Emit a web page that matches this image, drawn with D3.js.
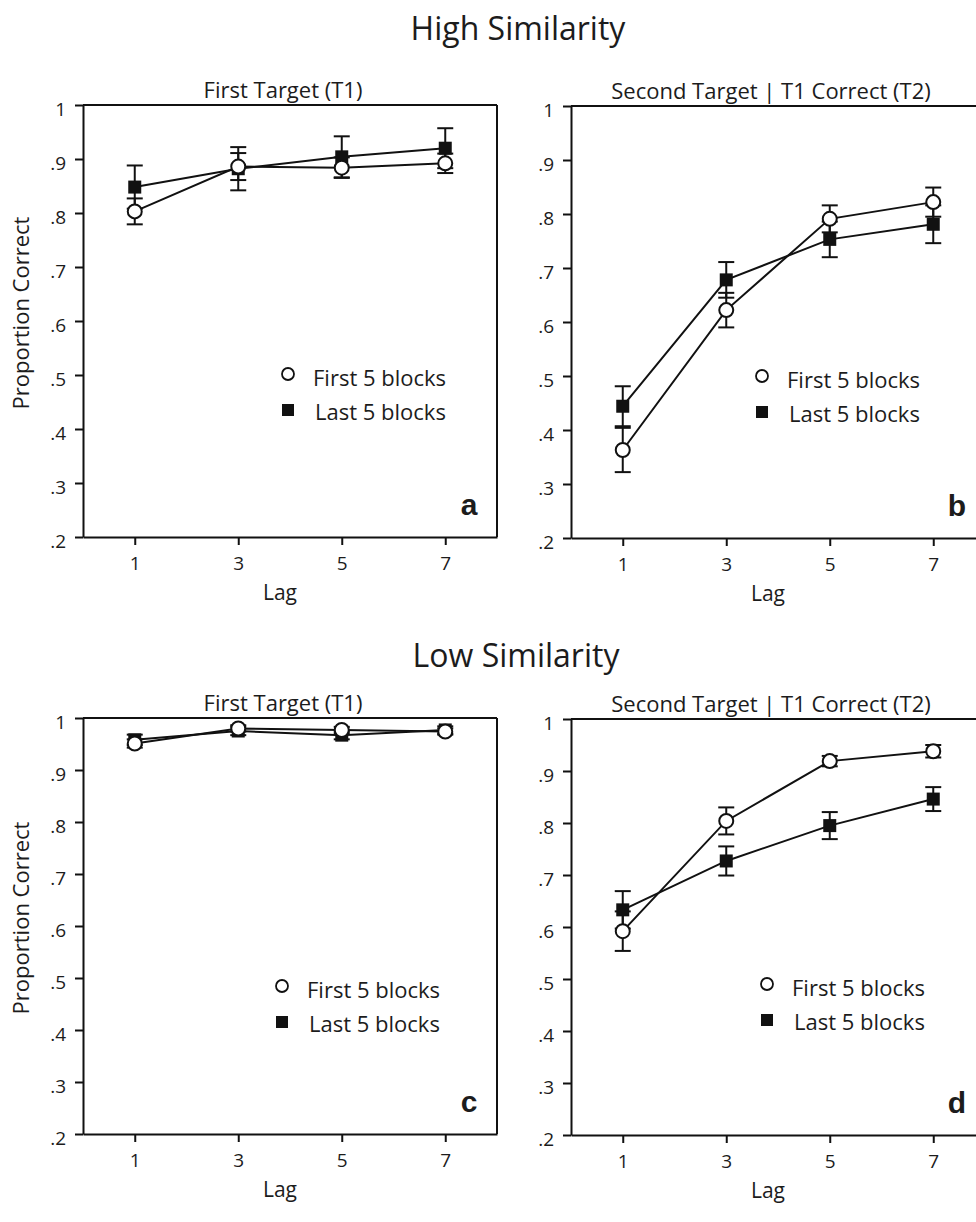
<!DOCTYPE html>
<meta charset="utf-8">
<style>
    body { margin: 0; background: #fff; }
    text { font-family: "Open Sans", sans-serif; fill: #1c1c1c; }
    .axis path, .axis line { stroke: #111; stroke-width: 2; }
    .axis text { font-size: 19px; }
    .frame { stroke: #111; stroke-width: 2; }
    .series { fill: none; stroke: #111; stroke-width: 2; }
    .err { stroke: #111; stroke-width: 2; }
</style>
<svg width="976" height="1222"></svg>
<script src="https://cdn.jsdelivr.net/npm/d3@7/dist/d3.min.js"></script>
<script>

    // values
    var lags = [1, 3, 5, 7];
    var yTicks = [0.2, 0.3, 0.4, 0.5, 0.6, 0.7, 0.8, 0.9, 1];
    var seriesNames = ["First 5 blocks", "Last 5 blocks"];

    var highT1First = [0.803, 0.886, 0.884, 0.892];
    var highT1FirstErr = [0.024, 0.025, 0.019, 0.018];
    var highT1Last = [0.848, 0.882, 0.904, 0.920];
    var highT1LastErr = [0.040, 0.040, 0.038, 0.037];

    var highT2First = [0.363, 0.622, 0.791, 0.822];
    var highT2FirstErr = [0.041, 0.032, 0.025, 0.027];
    var highT2Last = [0.444, 0.678, 0.753, 0.781];
    var highT2LastErr = [0.037, 0.033, 0.033, 0.035];

    var lowT1First = [0.951, 0.980, 0.977, 0.974];
    var lowT1FirstErr = [0.008, 0.006, 0.006, 0.006];
    var lowT1Last = [0.958, 0.975, 0.967, 0.977];
    var lowT1LastErr = [0.010, 0.008, 0.008, 0.007];

    var lowT2First = [0.592, 0.804, 0.919, 0.938];
    var lowT2FirstErr = [0.038, 0.026, 0.010, 0.012];
    var lowT2Last = [0.633, 0.727, 0.795, 0.846];
    var lowT2LastErr = [0.036, 0.028, 0.026, 0.023];

    var svg = d3.select("svg");

    // big row titles
    svg.append("text").attr("x", 518).attr("y", 40).attr("text-anchor", "middle")
        .style("font-size", "32px").text("High Similarity");
    svg.append("text").attr("x", 516).attr("y", 667).attr("text-anchor", "middle")
        .style("font-size", "32px").text("Low Similarity");

    var panels = [
        {label: "a", title: "First Target (T1)", first: highT1First, firstErr: highT1FirstErr,
            last: highT1Last, lastErr: highT1LastErr, left: 83, top: 105, h: 432, ylab: true,
            legX: 205, legY: 269},
        {label: "b", title: "Second Target | T1 Correct (T2)", first: highT2First, firstErr: highT2FirstErr,
            last: highT2Last, lastErr: highT2LastErr, left: 571, top: 106, h: 432, ylab: false,
            legX: 191, legY: 270},
        {label: "c", title: "First Target (T1)", first: lowT1First, firstErr: lowT1FirstErr,
            last: lowT1Last, lastErr: lowT1LastErr, left: 83, top: 718, h: 416, ylab: true,
            legX: 199, legY: 268},
        {label: "d", title: "Second Target | T1 Correct (T2)", first: lowT2First, firstErr: lowT2FirstErr,
            last: lowT2Last, lastErr: lowT2LastErr, left: 571, top: 719, h: 416, ylab: false,
            legX: 196, legY: 265}
    ];

    var w = 414;
    var fmt = function (d) {
        return d === 1 ? "1" : d3.format(".1f")(d).replace(/^0/, "");
    };

    panels.forEach(function (p) {
        var g = svg.append("g").attr("transform", "translate(" + p.left + "," + p.top + ")");
        var x = d3.scaleLinear().domain([0, 8]).range([0, w]);
        var y = d3.scaleLinear().domain([0.2, 1]).range([p.h, 0]);

        // frame top + right
        g.append("line").attr("class", "frame").attr("x1", 0).attr("x2", w).attr("y1", 0).attr("y2", 0);
        g.append("line").attr("class", "frame").attr("x1", w).attr("x2", w).attr("y1", 0).attr("y2", p.h);

        var ya = g.append("g").attr("class", "axis")
            .call(d3.axisLeft(y).tickValues(yTicks).tickFormat(fmt).tickSize(8).tickSizeOuter(0).tickPadding(9));
        ya.selectAll(".tick text").attr("dy", "0.55em");
        g.append("g").attr("class", "axis").attr("transform", "translate(0," + p.h + ")")
            .call(d3.axisBottom(x).tickValues(lags).tickSize(8).tickSizeOuter(0).tickPadding(12));
        g.selectAll(".axis .domain").attr("stroke", "#111");

        g.append("text").attr("x", 200).attr("y", -7).attr("text-anchor", "middle")
            .style("font-size", "22px").text(p.title);
        g.append("text").attr("x", 197).attr("y", p.h + 63).attr("text-anchor", "middle")
            .style("font-size", "21px").text("Lag");
        if (p.ylab) {
            g.append("text").attr("transform", "translate(" + (-54) + "," + (p.h / 2 - 8) + ") rotate(-90)")
                .attr("text-anchor", "middle").style("font-size", "22px").text("Proportion Correct");
        }
        g.append("text").attr("x", w - 28).attr("y", p.h - 22).attr("text-anchor", "middle")
            .style("font-family", "'Liberation Sans', Arial, sans-serif").style("font-weight", "bold")
            .style("font-size", "30px").text(p.label);

        var sets = [
            {vals: p.first, err: p.firstErr},
            {vals: p.last, err: p.lastErr}
        ];
        var line = d3.line().x(function (d, i) { return x(lags[i]); }).y(function (d) { return y(d); });

        sets.forEach(function (s) {
            g.append("path").attr("class", "series").attr("d", line(s.vals));
        });
        sets.forEach(function (s) {
            var eb = g.append("g");
            s.vals.forEach(function (v, i) {
                var cx = x(lags[i]), lo = y(v - s.err[i]), hi = y(v + s.err[i]);
                eb.append("line").attr("class", "err").attr("x1", cx).attr("x2", cx).attr("y1", lo).attr("y2", hi);
                eb.append("line").attr("class", "err").attr("x1", cx - 8).attr("x2", cx + 8).attr("y1", lo).attr("y2", lo);
                eb.append("line").attr("class", "err").attr("x1", cx - 8).attr("x2", cx + 8).attr("y1", hi).attr("y2", hi);
            });
        });
        // markers: squares then circles
        g.selectAll("rect.m").data(p.last).enter().append("rect").attr("class", "m")
            .attr("x", function (d, i) { return x(lags[i]) - 6.5; })
            .attr("y", function (d) { return y(d) - 6.5; })
            .attr("width", 13).attr("height", 13).attr("fill", "#111");
        g.selectAll("circle.m").data(p.first).enter().append("circle").attr("class", "m")
            .attr("cx", function (d, i) { return x(lags[i]); })
            .attr("cy", function (d) { return y(d); })
            .attr("r", 7).attr("fill", "#fff").attr("stroke", "#111").attr("stroke-width", 2);

        // legend
        var leg = g.append("g").attr("transform", "translate(" + p.legX + "," + p.legY + ")");
        leg.append("circle").attr("r", 6).attr("fill", "#fff").attr("stroke", "#111").attr("stroke-width", 1.8);
        leg.append("rect").attr("x", -6).attr("y", 30).attr("width", 12).attr("height", 12).attr("fill", "#111");
        leg.append("text").attr("x", 25).attr("y", 12).style("font-size", "22px").text(seriesNames[0]);
        leg.append("text").attr("x", 27).attr("y", 46).style("font-size", "22px").text(seriesNames[1]);
    });

</script>
